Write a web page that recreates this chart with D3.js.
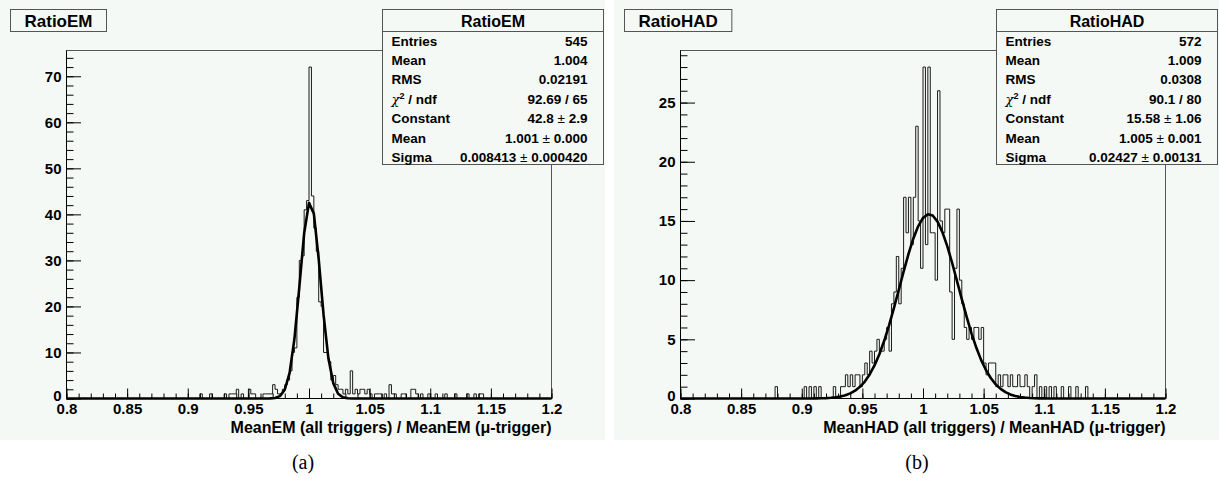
<!DOCTYPE html>
<html><head><meta charset="utf-8">
<script src="https://cdn.jsdelivr.net/npm/d3@7"></script>
<style>html,body{margin:0;padding:0;background:#fff;} svg{display:block;}</style>
</head><body><svg id="c" width="1219" height="486"></svg>
<script>
// ---------------- data ----------------
const binLow = 0.8, binWidth = 0.002;          // 200 bins from 0.8 to 1.2
const xTickValues = [0.8, 0.85, 0.9, 0.95, 1.0, 1.05, 1.1, 1.15, 1.2];
const xTickLabels = ["0.8", "0.85", "0.9", "0.95", "1", "1.05", "1.1", "1.15", "1.2"];

const emCounts = [
  0,0,0,0,0, 0,0,0,0,0, 0,0,0,0,0, 0,0,0,0,0,
  0,0,0,0,0, 0,0,0,0,0, 0,0,0,0,0, 0,0,0,0,0,
  0,0,0,0,0, 0,0,0,0,0, 0,0,0,0,0, 1,0,0,0,1,
  0,0,0,0,0, 1,0,1,1,1, 2,0,1,0,0, 2,1,1,0,0,
  0,1,1,1,1, 3,2,1,1,2, 3,4,6,10,11, 22,30,31,41,43,
  72,44,37,32,21, 20,10,10,8,4, 5,3,2,2,1, 2,1,6,1,2,
  1,2,2,1,2, 1,0,1,1,1, 0,1,0,3,1, 1,0,0,1,1,
  0,0,2,2,1, 0,1,0,0,1, 0,0,1,0,0, 0,1,0,0,0,
  1,0,0,0,0, 1,0,0,1,0, 1,1,0,0,0, 0,0,0,0,0,
  0,0,0,0,0, 0,0,0,0,0, 0,0,0,0,0, 0,0,0,0,0
];
const hadCounts = [
  0,0,0,0,0, 0,0,0,0,0, 0,0,0,0,0, 0,0,0,0,0,
  0,0,0,0,0, 0,0,0,0,0, 0,0,0,0,0, 0,0,0,0,1,
  0,0,0,0,0, 0,0,0,0,0, 0,1,0,1,0, 1,0,1,0,0,
  0,0,0,1,0, 0,1,1,2,1, 2,1,2,2,1, 2,3,2,4,3,
  4,5,4,4,5, 6,4,8,9,12, 8,11,17,14,17, 13,17,23,15,11,
  28,13,28,14,14, 10,26,15,14,16, 16,9,5,11,16, 10,8,6,5,6,
  5,6,6,5,6, 3,2,3,3,3, 1,2,1,2,2, 1,2,1,1,2,
  1,1,2,1,0, 1,2,0,1,0, 1,0,1,0,1, 0,0,1,0,0,
  1,0,0,1,0, 0,0,1,0,0, 0,0,0,0,0, 0,0,0,0,0,
  0,0,0,0,0, 0,0,0,0,0, 0,0,0,0,0, 0,0,0,0,0
];

const emYTicks = [0, 10, 20, 30, 40, 50, 60, 70];
const hadYTicks = [0, 5, 10, 15, 20, 25];
const emYMinorStep = 2, hadYMinorStep = 1;

// Gaussian fit parameters: constant, mean, sigma
const emFit = [42.8, 1.001, 0.008413];
const hadFit = [15.58, 1.005, 0.02427];

const panelTitles = ["RatioEM", "RatioHAD"];
const axisTitles = ["MeanEM (all triggers) / MeanEM (\u03bc-trigger)",
                    "MeanHAD (all triggers) / MeanHAD (\u03bc-trigger)"];
const captions = ["(a)", "(b)"];
const statLabels = ["Entries", "Mean", "RMS", "CHI", "Constant", "Mean", "Sigma"];
const emStatValues = ["545", "1.004", "0.02191", "92.69 / 65", "42.8 \u00b1 2.9", "1.001 \u00b1 0.000", "0.008413 \u00b1 0.000420"];
const hadStatValues = ["572", "1.009", "0.0308", "90.1 / 80", "15.58 \u00b1 1.06", "1.005 \u00b1 0.001", "0.02427 \u00b1 0.00131"];

// ---------------- drawing ----------------
const svg = d3.select("#c");
const FONT = "'Liberation Sans', Arial, Helvetica, sans-serif";
const padColor = "#f5f9f5";
const padH = 440;
const pads = [{x: 0, w: 605}, {x: 614, w: 605}];

function drawPanel(p, idx, counts, yTicks, yMinorStep, fit, statValues) {
  const g = svg.append("g");
  g.append("rect").attr("x", p.x).attr("y", 0).attr("width", p.w).attr("height", padH).attr("fill", padColor);

  const fx0 = p.x + 66.5, fx1 = p.x + 551.5, fy0 = 50.5, fy1 = 398.5;
  const x = d3.scaleLinear().domain([xTickValues[0], xTickValues[xTickValues.length - 1]]).range([fx0, fx1]);
  const ymax = d3.max(counts) * 1.05;
  const y = d3.scaleLinear().domain([0, ymax]).range([fy1, fy0]);

  g.append("rect").attr("x", fx0).attr("y", fy0).attr("width", fx1 - fx0).attr("height", fy1 - fy0)
    .attr("fill", "none").attr("stroke", "#555").attr("stroke-width", 1);

  // histogram outline
  let d = `M${x(binLow)},${y(0)}`;
  counts.forEach((c, k) => {
    const a = x(binLow + k * binWidth), b = x(binLow + (k + 1) * binWidth);
    d += `L${a},${y(c)}L${b},${y(c)}`;
  });
  d += `L${x(binLow + counts.length * binWidth)},${y(0)}`;
  g.append("path").attr("d", d).attr("fill", "none").attr("stroke", "#1a1a1a").attr("stroke-width", 1);

  // fit curve (100 segments like ROOT's TF1 default)
  const npx = 100, dom = x.domain();
  const xs = d3.range(npx + 1).map(k => dom[0] + k * (dom[1] - dom[0]) / npx);
  const gauss = v => fit[0] * Math.exp(-0.5 * Math.pow((v - fit[1]) / fit[2], 2));
  g.append("path").datum(xs)
    .attr("d", d3.line().x(v => x(v)).y(v => y(gauss(v))))
    .attr("fill", "none").attr("stroke", "#000").attr("stroke-width", 2.6).attr("stroke-linejoin", "round");

  // x axis
  const xMinor = d3.range(0, 41).map(k => dom[0] + k * 0.01);
  const gxm = g.append("g").attr("transform", `translate(0,${fy1})`)
    .call(d3.axisBottom(x).tickValues(xMinor).tickSize(-5).tickFormat(""));
  gxm.select(".domain").remove();
  const gx = g.append("g").attr("transform", `translate(0,${fy1})`)
    .call(d3.axisBottom(x).tickValues(xTickValues).tickSize(-10).tickPadding(5).tickFormat((v, k) => xTickLabels[k]));
  gx.select(".domain").attr("stroke", "#000").attr("d", `M${fx0},0H${fx1}`);
  gx.selectAll("text").attr("font-family", FONT).attr("font-weight", "bold").attr("font-size", 15).attr("fill", "#000");

  // y axis
  const yMinor = d3.range(0, ymax, yMinorStep);
  const gym = g.append("g").attr("transform", `translate(${fx0},0)`)
    .call(d3.axisLeft(y).tickValues(yMinor).tickSize(-7).tickFormat(""));
  gym.select(".domain").remove();
  const gy = g.append("g").attr("transform", `translate(${fx0},0)`)
    .call(d3.axisLeft(y).tickValues(yTicks).tickSize(-14.5).tickPadding(5).tickFormat(d3.format("d")));
  gy.select(".domain").attr("stroke", "#000").attr("d", `M0,${fy1}V${fy0}`);
  gy.selectAll("text").attr("font-family", FONT).attr("font-weight", "bold").attr("font-size", 15).attr("fill", "#000");
  gy.selectAll(".tick").filter(v => v === 0).select("text").attr("dy", "0.1em");
  g.selectAll(".tick line").attr("stroke", "#000");

  // axis title
  g.append("text").attr("x", fx1).attr("y", 433).attr("text-anchor", "end")
    .attr("font-family", FONT).attr("font-weight", "bold").attr("font-size", 16).text(axisTitles[idx]);

  // title box
  const tbox = g.append("rect").attr("x", p.x + 10.5).attr("y", 9.5).attr("height", 22)
    .attr("fill", padColor).attr("stroke", "#555");
  const tt = g.append("text").attr("y", 27).attr("text-anchor", "middle")
    .attr("font-family", FONT).attr("font-weight", "bold").attr("font-size", 17).text(panelTitles[idx]);
  const bw = tt.node().getComputedTextLength() + 28;
  tbox.attr("width", bw);
  tt.attr("x", p.x + 10.5 + bw / 2);

  // stats box
  const sx = p.x + 382.5, sw = 221, sy = 9.5, sh = 155;
  g.append("rect").attr("x", sx).attr("y", sy).attr("width", sw).attr("height", sh)
    .attr("fill", padColor).attr("stroke", "#555");
  g.append("line").attr("x1", sx).attr("x2", sx + sw).attr("y1", 31.5).attr("y2", 31.5).attr("stroke", "#555");
  g.append("text").attr("x", sx + sw / 2).attr("y", 27).attr("text-anchor", "middle")
    .attr("font-family", FONT).attr("font-weight", "bold").attr("font-size", 16).text(panelTitles[idx]);
  statLabels.forEach((lab, r) => {
    const by = 45.5 + r * 19.4;
    const t = g.append("text").attr("x", sx + 9).attr("y", by)
      .attr("font-family", FONT).attr("font-weight", "bold").attr("font-size", 13.5);
    if (lab === "CHI") {
      t.append("tspan").attr("font-family", "'DejaVu Serif', serif").attr("font-weight", "normal").attr("font-style", "italic").attr("font-size", 13).text("\u03c7");
      t.append("tspan").attr("font-size", 9).attr("dy", -5).text("2");
      t.append("tspan").attr("dy", 5).text(" / ndf");
    } else t.text(lab);
    const v = g.append("text").attr("x", sx + sw - 16).attr("y", by).attr("text-anchor", "end")
      .attr("font-family", FONT).attr("font-weight", "bold").attr("font-size", 13.5);
    const parts = statValues[r].split("\u00b1");
    v.append("tspan").text(parts[0]);
    if (parts.length > 1) {
      v.append("tspan").attr("font-weight", "normal").text("\u00b1");
      v.append("tspan").text(parts[1]);
    }
  });

  // caption
  svg.append("text").attr("x", p.x + 303).attr("y", 469).attr("text-anchor", "middle")
    .attr("font-family", "'Liberation Serif', 'DejaVu Serif', serif").attr("font-size", 20).text(captions[idx]);
}

drawPanel(pads[0], 0, emCounts, emYTicks, emYMinorStep, emFit, emStatValues);
drawPanel(pads[1], 1, hadCounts, hadYTicks, hadYMinorStep, hadFit, hadStatValues);
</script>
</body></html>
